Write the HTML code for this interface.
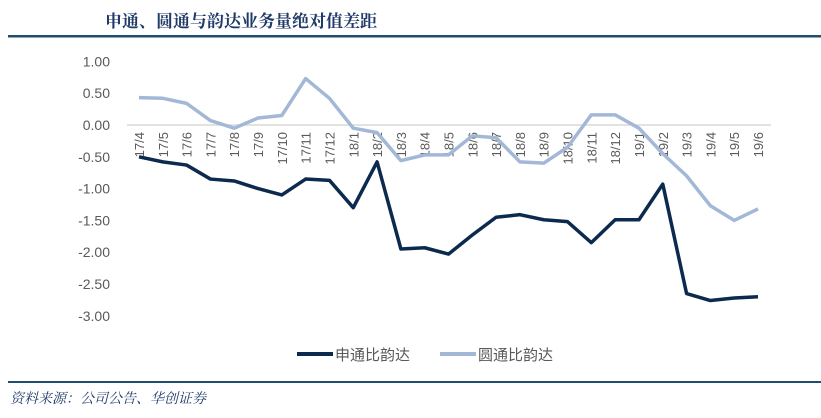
<!DOCTYPE html>
<html><head><meta charset="utf-8"><style>
body{margin:0;background:#fff;width:821px;height:413px;overflow:hidden;font-family:"Liberation Sans","Noto Sans CJK SC",sans-serif}
</style></head><body>
<svg width="821" height="413" xmlns="http://www.w3.org/2000/svg">
<text x="105" y="27" font-family="'Noto Serif CJK SC',serif" font-size="17" font-weight="bold" fill="#1f3a68">申通、圆通与韵达业务量绝对值差距</text>
<rect x="8" y="35" width="813" height="2.5" fill="#1f4e6e"/>
<g id="yaxis"></g><g id="xaxis"></g><g id="series"></g>
<g>
<line x1="297" y1="354" x2="333" y2="354" stroke="#0c2a4e" stroke-width="4"/>
<text x="335" y="360" font-size="15" fill="#595959">申通比韵达</text>
<line x1="440" y1="354" x2="476" y2="354" stroke="#a3b8d6" stroke-width="4"/>
<text x="478" y="360" font-size="15" fill="#595959">圆通比韵达</text>
</g>
<rect x="8" y="381" width="813" height="2" fill="#1f4e6e"/>
<text x="10" y="403" font-family="'Noto Serif CJK SC',serif" font-style="italic" font-size="14" fill="#1f3a68">资料来源：公司公告、华创证券</text>
</svg>
<script>
const categories=["17/4","17/5","17/6","17/7","17/8","17/9","17/10","17/11","17/12","18/1","18/2","18/3","18/4","18/5","18/6","18/7","18/8","18/9","18/10","18/11","18/12","19/1","19/2","19/3","19/4","19/5","19/6"];
const shentong=[-0.50,-0.58,-0.63,-0.85,-0.88,-1.00,-1.10,-0.85,-0.87,-1.30,-0.58,-1.95,-1.93,-2.03,-1.73,-1.45,-1.41,-1.49,-1.52,-1.85,-1.49,-1.49,-0.93,-2.65,-2.76,-2.72,-2.70];
const yuantong=[0.43,0.42,0.34,0.07,-0.05,0.11,0.15,0.73,0.42,-0.05,-0.12,-0.56,-0.47,-0.47,-0.17,-0.20,-0.58,-0.60,-0.35,0.16,0.16,-0.05,-0.45,-0.80,-1.27,-1.50,-1.32];
const yTicks=[1,0.5,0,-0.5,-1,-1.5,-2,-2.5,-3];
const NS="http://www.w3.org/2000/svg";
function y(v){return 125-v*63.6;}
function x(i){return 139+i*(758-139)/(categories.length-1);}
const ya=document.getElementById('yaxis'),xa=document.getElementById('xaxis'),sg=document.getElementById('series');
yTicks.forEach(t=>{const e=document.createElementNS(NS,'text');


e.setAttribute('x',110);e.setAttribute('y',y(t)+5);e.setAttribute('text-anchor','end');e.setAttribute('font-size','14');e.setAttribute('fill','#595959');e.textContent=t.toFixed(2);ya.appendChild(e);});
const ax=document.createElementNS(NS,'line');


ax.setAttribute('x1',127);ax.setAttribute('x2',771);ax.setAttribute('y1',y(0));ax.setAttribute('y2',y(0));ax.setAttribute('stroke','#d9d9d9');ax.setAttribute('stroke-width','1.5');xa.appendChild(ax);
categories.forEach((c,i)=>{const e=document.createElementNS(NS,'text');


const px=x(i)+5,py=y(0)+7;e.setAttribute('x',px);e.setAttribute('y',py);e.setAttribute('text-anchor','end');e.setAttribute('font-size','13');e.setAttribute('fill','#595959');e.setAttribute('transform','rotate(-90 '+px+' '+py+')');e.textContent=c;xa.appendChild(e);});
function line(vals,color,name){const p=document.createElementNS(NS,'polyline');


p.setAttribute('points',vals.map((v,i)=>x(i)+','+y(v)).join(' '));p.setAttribute('fill','none');p.setAttribute('stroke',color);p.setAttribute('stroke-width','3.5');p.setAttribute('stroke-linejoin','round');sg.appendChild(p);}
line(yuantong,'#a3b8d6','yuantong-line');
line(shentong,'#0c2a4e','shentong-line');
</script>
</body></html>
